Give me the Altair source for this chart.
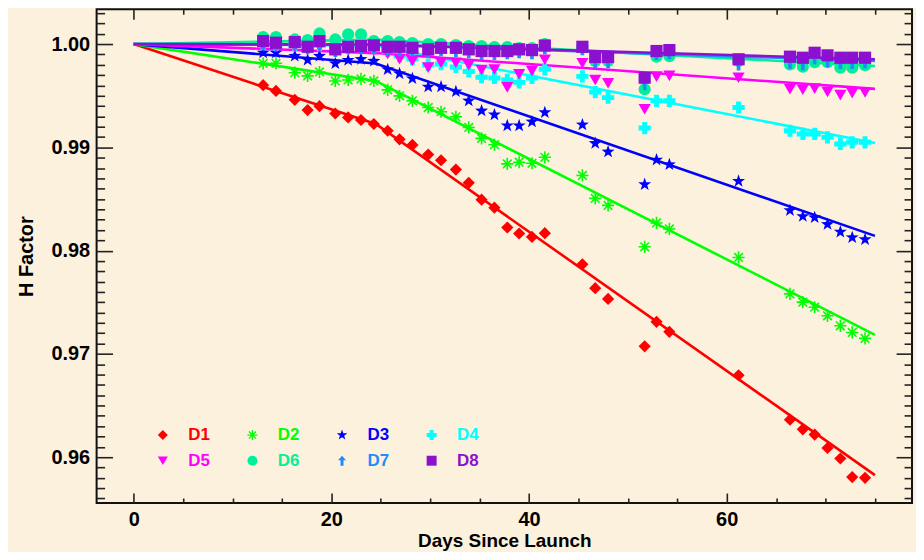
import altair as alt
import pandas as pd

# ---------------- data ----------------
series = ["D1", "D2", "D3", "D4", "D5", "D6", "D7", "D8"]
colors = ["#FF0000", "#00FF00", "#0000FF", "#00FFFF", "#FF00FF", "#00F09A", "#1E8CFF", "#8B10D0"]

ASTERISK = ("M-1,-0.13L1,-0.13L1,0.13L-1,0.13Z"
            "M-0.13,-1L0.13,-1L0.13,1L-0.13,1Z"
            "M-0.799,-0.615L-0.615,-0.799L0.799,0.615L0.615,0.799Z"
            "M0.615,-0.799L0.799,-0.615L-0.615,0.799L-0.799,0.615Z")
STAR = ("M0,-1.12L0.263,-0.363L1.065,-0.346L0.426,0.139L0.659,0.906L0,0.448"
        "L-0.659,0.906L-0.426,0.139L-1.065,-0.346L-0.263,-0.363Z")
ARROW = "M0,-1L0.8,-0.1L0.3,-0.1L0.3,1L-0.3,1L-0.3,-0.1L-0.8,-0.1Z"
shapes = ["diamond", ASTERISK, STAR, "cross", "triangle-down", "circle", ARROW, "square"]

days = [13.1, 14.4, 16.3, 17.6, 18.8, 20.4, 21.7, 23.0, 24.3, 25.7, 26.9, 28.2,
        29.8, 31.1, 32.6, 33.9, 35.2, 36.5, 37.8, 39.0, 40.3, 41.6, 45.4, 46.7,
        48.0, 51.7, 52.9, 54.2, 61.2, 66.4, 67.7, 68.9, 70.2, 71.5, 72.7, 74.0]

d1 = [0.99602, 0.99547, 0.99460, 0.99361, 0.99399, 0.99328, 0.99290, 0.99265, 0.99226,
      0.99161, 0.99078, 0.99024, 0.98930, 0.98875, 0.98785, 0.98657, 0.98493, 0.98416,
      0.98224, 0.98166, 0.98133, 0.98169, 0.97867, 0.97636, 0.97532, 0.97073, 0.97311,
      0.97214, 0.96793, 0.96363, 0.96270, 0.96219, 0.96089, 0.95987, 0.95807, 0.95800]
d2 = [0.99814, 0.99814, 0.99723, 0.99692, 0.99730, 0.99643, 0.99653, 0.99663, 0.99643,
      0.99557, 0.99499, 0.99451, 0.99386, 0.99345, 0.99296, 0.99193, 0.99087, 0.99026,
      0.98840, 0.98856, 0.98846, 0.98904, 0.98728, 0.98506, 0.98438, 0.98037, 0.98268,
      0.98210, 0.97934, 0.97581, 0.97501, 0.97452, 0.97369, 0.97272, 0.97208, 0.97150]
d3 = [0.99916, 0.99916, 0.99884, 0.99846, 0.99884, 0.99812, 0.99844, 0.99853, 0.99836,
      0.99754, 0.99714, 0.99666, 0.99586, 0.99586, 0.99540, 0.99451, 0.99354, 0.99316,
      0.99210, 0.99210, 0.99248, 0.99338, 0.99219, 0.99039, 0.98957, 0.98641, 0.98879,
      0.98834, 0.98673, 0.98390, 0.98332, 0.98320, 0.98255, 0.98181, 0.98127, 0.98108]
d4 = [1.00000, 0.99990, 0.99990, 0.99981, 0.99990, 0.99971, 0.99981, 0.99981, 0.99971,
      0.99933, 0.99884, 0.99855, 0.99798, 0.99807, 0.99778, 0.99735, 0.99679, 0.99672,
      0.99653, 0.99629, 0.99672, 0.99756, 0.99687, 0.99535, 0.99482, 0.99187, 0.99451,
      0.99451, 0.99386, 0.99161, 0.99130, 0.99130, 0.99097, 0.99033, 0.99049, 0.99049]
d5 = [0.99981, 0.99971, 0.99971, 0.99961, 0.99971, 0.99933, 0.99949, 0.99952, 0.99942,
      0.99904, 0.99853, 0.99836, 0.99772, 0.99820, 0.99820, 0.99795, 0.99749, 0.99754,
      0.99581, 0.99708, 0.99740, 0.99848, 0.99814, 0.99653, 0.99621, 0.99369, 0.99685,
      0.99692, 0.99675, 0.99563, 0.99557, 0.99569, 0.99537, 0.99506, 0.99525, 0.99531]
d6 = [1.00067, 1.00067, 1.00045, 1.00039, 1.00103, 1.00045, 1.00094, 1.00094, 1.00029,
      1.00029, 1.00019, 1.00010, 1.00000, 1.00000, 0.99990, 0.99981, 0.99981, 0.99971,
      0.99971, 0.99961, 0.99961, 1.00000, 0.99971, 0.99836, 0.99836, 0.99563, 0.99878,
      0.99884, 0.99836, 0.99804, 0.99781, 0.99826, 0.99826, 0.99772, 0.99772, 0.99795]
d7 = [1.00010, 1.00000, 1.00000, 0.99961, 1.00010, 0.99933, 0.99961, 0.99961, 0.99961,
      0.99952, 0.99942, 0.99942, 0.99923, 0.99942, 0.99933, 0.99923, 0.99904, 0.99904,
      0.99913, 0.99923, 0.99913, 0.99961, 0.99952, 0.99826, 0.99826, 0.99612, 0.99904,
      0.99913, 0.99804, 0.99820, 0.99807, 0.99865, 0.99836, 0.99817, 0.99817, 0.99826]
d8 = [1.00029, 1.00013, 1.00019, 0.99974, 1.00029, 0.99949, 0.99974, 0.99981, 0.99987,
      0.99974, 0.99974, 0.99964, 0.99949, 0.99964, 0.99964, 0.99949, 0.99933, 0.99933,
      0.99933, 0.99949, 0.99942, 0.99986, 0.99974, 0.99875, 0.99875, 0.99675, 0.99933,
      0.99942, 0.99853, 0.99878, 0.99868, 0.99916, 0.99891, 0.99868, 0.99868, 0.99868]
point_lists = [d1, d2, d3, d4, d5, d6, d7, d8]

fit_days = [0.0, 24.5, 75.0]
fit_d1 = [1.0, 0.99226, 0.95826]
fit_d2 = [1.0, 0.99643, 0.97185]
fit_d3 = [1.0, 0.99812, 0.98143]
fit_d4 = [1.0, 0.99986, 0.99043]
fit_d5 = [1.0, 0.99913, 0.99566]
fit_d6 = [1.0, 1.00043, 0.99788]
fit_d7 = [1.0, 0.99995, 0.99836]
fit_d8 = [1.0, 0.99995, 0.99853]
fit_lists = [fit_d1, fit_d2, fit_d3, fit_d4, fit_d5, fit_d6, fit_d7, fit_d8]

x_major = [0, 20, 40, 60]
x_minor = [5, 10, 15, 25, 30, 35, 45, 50, 55, 65, 70, 75]
y_major = [0.96, 0.97, 0.98, 0.99, 1.00]
y_minor = [round(0.956 + 0.001 * i, 3) for i in range(48)]
y_minor = [v for v in y_minor if round(v * 100, 6) % 1 != 0 and v < 1.0034]

# ---------------- tables ----------------
pts = pd.DataFrame([{"series": s, "day": d, "h": v}
                    for s, vals in zip(series, point_lists) for d, v in zip(days, vals)])
fit = pd.DataFrame([{"series": s, "col": c, "day": d, "h": v}
                    for s, c, vals in zip(series, colors, fit_lists) for d, v in zip(fit_days, vals)])

W, H = 819, 496
FONT = "Liberation Sans"
xs = alt.Scale(domain=[-3.75, 78.75], nice=False, zero=False)
ys = alt.Scale(domain=[0.95556, 1.00338], nice=False, zero=False)
cscale = alt.Scale(domain=series, range=colors)
sscale = alt.Scale(domain=series, range=shapes)

legend = alt.Legend(
    title=None, orient="none", legendX=58, legendY=419, columns=4, direction="horizontal",
    labelFont=FONT, labelFontSize=17, labelFontWeight="bold",
    labelColor={"expr": "scale('color', datum.value)"},
    symbolSize=100, symbolStrokeWidth=0, labelOffset=17, columnPadding=34, rowPadding=8,
)


def tick_axis(orient, offset, values, size):
    return alt.Axis(orient=orient, offset=offset, values=values, labels=False, domain=False,
                    grid=False, ticks=True, tickSize=size, tickWidth=1.6, tickColor="#222222",
                    title=None)


x_lab = alt.Axis(orient="bottom", values=x_major, format="d", ticks=False, domain=False, grid=False,
                 labelFont=FONT, labelFontSize=20, labelFontWeight="bold", labelColor="black",
                 labelPadding=7, labelFlush=False,
                 title="Days Since Launch", titleFont=FONT, titleFontSize=19,
                 titleFontWeight="bold", titleColor="black",
                 titleBaseline="alphabetic", titleY=44)
y_lab = alt.Axis(orient="left", values=y_major, format=".2f", ticks=False, domain=False, grid=False,
                 labelFont=FONT, labelFontSize=20, labelFontWeight="bold", labelColor="black",
                 labelPadding=7, labelFlush=False,
                 title="H Factor", titleFont=FONT, titleFontSize=20,
                 titleFontWeight="bold", titleColor="black", titlePadding=14)

lines = alt.Chart(fit).mark_line(strokeWidth=2.6).encode(
    x=alt.X("day:Q", scale=xs, axis=x_lab),
    y=alt.Y("h:Q", scale=ys, axis=y_lab),
    color=alt.Color("col:N", scale=None),
    detail="series:N",
)

points = alt.Chart(pts).mark_point(filled=True, size=150, opacity=1).encode(
    x=alt.X("day:Q", scale=xs, axis=None),
    y=alt.Y("h:Q", scale=ys, axis=None),
    color=alt.Color("series:N", scale=cscale, legend=legend),
    shape=alt.Shape("series:N", scale=sscale, legend=legend),
)


def tick_layer(xo, xoff, xv, xsz, yo, yoff, yv, ysz):
    return alt.Chart(fit).mark_point(opacity=0).encode(
        x=alt.X("day:Q", scale=xs, axis=tick_axis(xo, xoff, xv, xsz)),
        y=alt.Y("h:Q", scale=ys, axis=tick_axis(yo, yoff, yv, ysz)),
    )


t1 = tick_layer("top", -H, x_major, 10, "right", -W, y_major, 16)
t2 = tick_layer("top", -H, x_minor, 5, "right", -W, y_minor, 8)
t3 = tick_layer("bottom", -H, x_major, 10, "left", -W, y_major, 16)
t4 = tick_layer("bottom", -H, x_minor, 5, "left", -W, y_minor, 8)

chart = alt.layer(lines, points, t1, t2, t3, t4).resolve_axis(
    x="independent", y="independent"
).properties(
    width=W, height=H,
    autosize=alt.AutoSizeParams(type="none"),
    padding={"left": 89, "top": 0, "right": 4, "bottom": 48},
).configure(
    background="#FCF1DC", font=FONT,
).configure_view(
    stroke="#111111", strokeWidth=2, fill="#FCF1DC",
)

chart.save("out.html", embed_options={"renderer": "svg", "actions": False})
